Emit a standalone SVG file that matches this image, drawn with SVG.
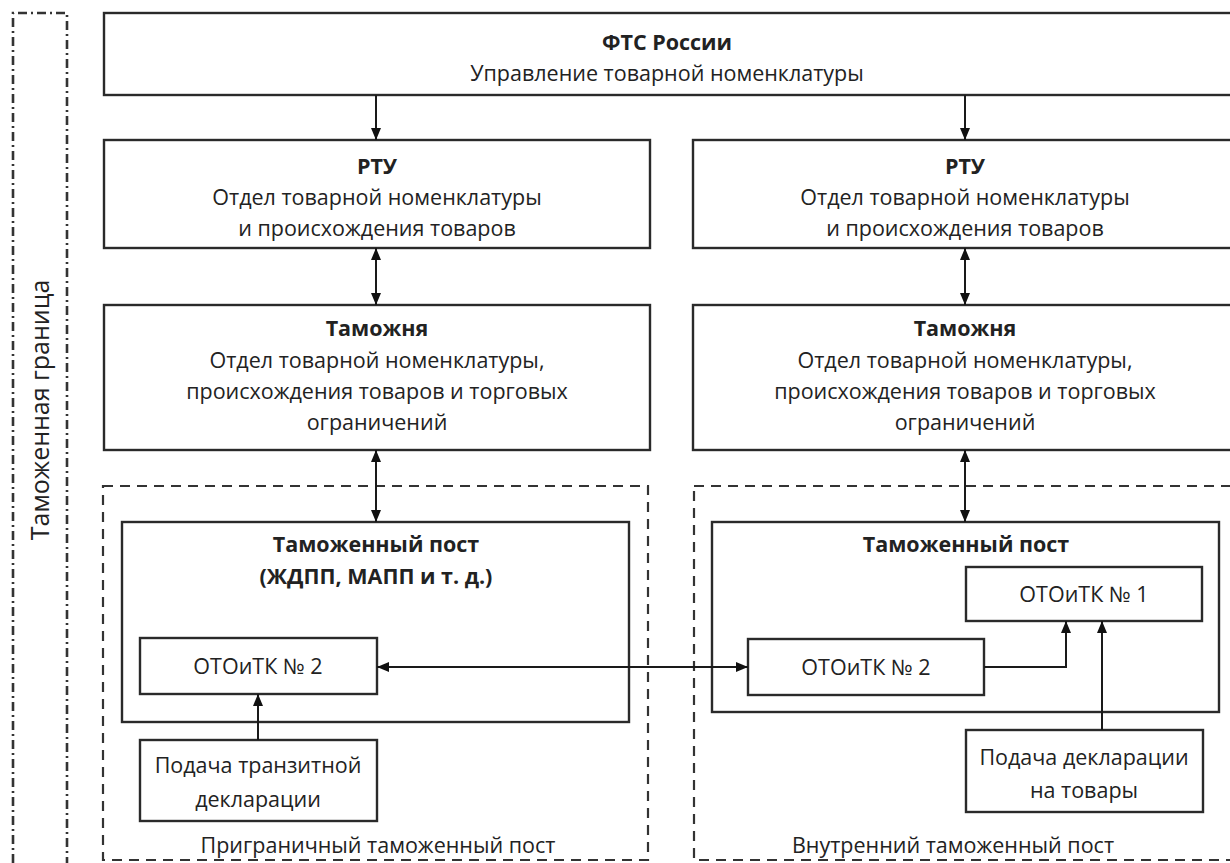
<svg xmlns="http://www.w3.org/2000/svg" width="1230" height="863" viewBox="0 0 1230 863">
<defs>
<style>
.box{fill:#fff;stroke:#2a2a2a;stroke-width:2.4}
.dash{fill:none;stroke:#333;stroke-width:2.2;stroke-dasharray:10 7}
.dd{fill:none;stroke:#333;stroke-width:2.6;stroke-dasharray:9 4 2 4}
.t{font-family:"Open Sans","Noto Sans","Liberation Sans",sans-serif;font-size:21.5px;fill:#222;text-anchor:middle}
.b{font-weight:bold}
.ln{fill:none;stroke:#1a1a1a;stroke-width:2}
</style>
<marker id="ah" viewBox="0 0 12 10" refX="12" refY="5" markerWidth="12" markerHeight="10" markerUnits="userSpaceOnUse" orient="auto-start-reverse">
<path d="M0,0 L12,5 L0,10 z" fill="#111"/>
</marker>
</defs>
<rect width="1230" height="863" fill="#fff"/>

<g id="border">
<path class="dd" d="M13,863 L13,13 L67,13 L67,863"/>
<text class="t" style="font-size:25px" transform="translate(49,410) rotate(-90)">Таможенная граница</text>
</g>

<g id="zone-left">
<rect class="dash" x="103" y="486" width="545" height="374"/>
<text class="t" x="378" y="853">Приграничный таможенный пост</text>
</g>
<g id="zone-right">
<rect class="dash" x="694" y="486" width="560" height="374"/>
<text class="t" x="953" y="853">Внутренний таможенный пост</text>
</g>

<g id="fts">
<rect class="box" x="104" y="13" width="1140" height="82"/>
<text class="t b" x="667" y="50">ФТС России</text>
<text class="t" x="667" y="81">Управление товарной номенклатуры</text>
</g>

<g id="rtu-left">
<rect class="box" x="104" y="140" width="546" height="108"/>
<text class="t b" x="377" y="174">РТУ</text>
<text class="t" x="377" y="205">Отдел товарной номенклатуры</text>
<text class="t" x="377" y="236">и происхождения товаров</text>
</g>
<g id="rtu-right">
<rect class="box" x="693" y="140" width="560" height="108"/>
<text class="t b" x="965" y="174">РТУ</text>
<text class="t" x="965" y="205">Отдел товарной номенклатуры</text>
<text class="t" x="965" y="236">и происхождения товаров</text>
</g>

<g id="customs-left">
<rect class="box" x="104" y="305" width="546" height="145"/>
<text class="t b" x="377" y="336">Таможня</text>
<text class="t" x="377" y="368">Отдел товарной номенклатуры,</text>
<text class="t" x="377" y="399">происхождения товаров и торговых</text>
<text class="t" x="377" y="430">ограничений</text>
</g>
<g id="customs-right">
<rect class="box" x="693" y="305" width="560" height="145"/>
<text class="t b" x="965" y="336">Таможня</text>
<text class="t" x="965" y="368">Отдел товарной номенклатуры,</text>
<text class="t" x="965" y="399">происхождения товаров и торговых</text>
<text class="t" x="965" y="430">ограничений</text>
</g>

<g id="post-left">
<rect class="box" x="122" y="522" width="507" height="200"/>
<text class="t b" x="376" y="552">Таможенный пост</text>
<text class="t b" x="376" y="584">(ЖДПП, МАПП и т. д.)</text>
</g>
<g id="post-right">
<rect class="box" x="712" y="522" width="507" height="190"/>
<text class="t b" x="966" y="552">Таможенный пост</text>
</g>

<g id="otoitk2-left">
<rect class="box" x="140" y="638" width="237" height="56"/>
<text class="t" x="258" y="674">ОТОиТК № 2</text>
</g>
<g id="otoitk2-right">
<rect class="box" x="748" y="639" width="236" height="56"/>
<text class="t" x="866" y="675">ОТОиТК № 2</text>
</g>
<g id="otoitk1">
<rect class="box" x="966" y="567" width="236" height="54"/>
<text class="t" x="1084" y="602">ОТОиТК № 1</text>
</g>

<g id="decl-transit">
<rect class="box" x="140" y="740" width="237" height="81"/>
<text class="t" x="258" y="773">Подача транзитной</text>
<text class="t" x="258" y="807">декларации</text>
</g>
<g id="decl-goods">
<rect class="box" x="966" y="730" width="237" height="82"/>
<text class="t" x="1084" y="765">Подача декларации</text>
<text class="t" x="1084" y="798">на товары</text>
</g>

<g id="connectors">
<line class="ln" x1="376" y1="95" x2="376" y2="140" marker-end="url(#ah)"/>
<line class="ln" x1="965" y1="95" x2="965" y2="140" marker-end="url(#ah)"/>
<line class="ln" x1="376" y1="248" x2="376" y2="305" marker-start="url(#ah)" marker-end="url(#ah)"/>
<line class="ln" x1="965" y1="248" x2="965" y2="305" marker-start="url(#ah)" marker-end="url(#ah)"/>
<line class="ln" x1="376" y1="450" x2="376" y2="522" marker-start="url(#ah)" marker-end="url(#ah)"/>
<line class="ln" x1="965" y1="450" x2="965" y2="522" marker-start="url(#ah)" marker-end="url(#ah)"/>
<line class="ln" x1="377" y1="667" x2="748" y2="667" marker-start="url(#ah)" marker-end="url(#ah)"/>
<line class="ln" x1="258" y1="740" x2="258" y2="694" marker-end="url(#ah)"/>
<polyline class="ln" points="984,667 1066,667 1066,621" marker-end="url(#ah)"/>
<line class="ln" x1="1102" y1="730" x2="1102" y2="621" marker-end="url(#ah)"/>
</g>
</svg>
